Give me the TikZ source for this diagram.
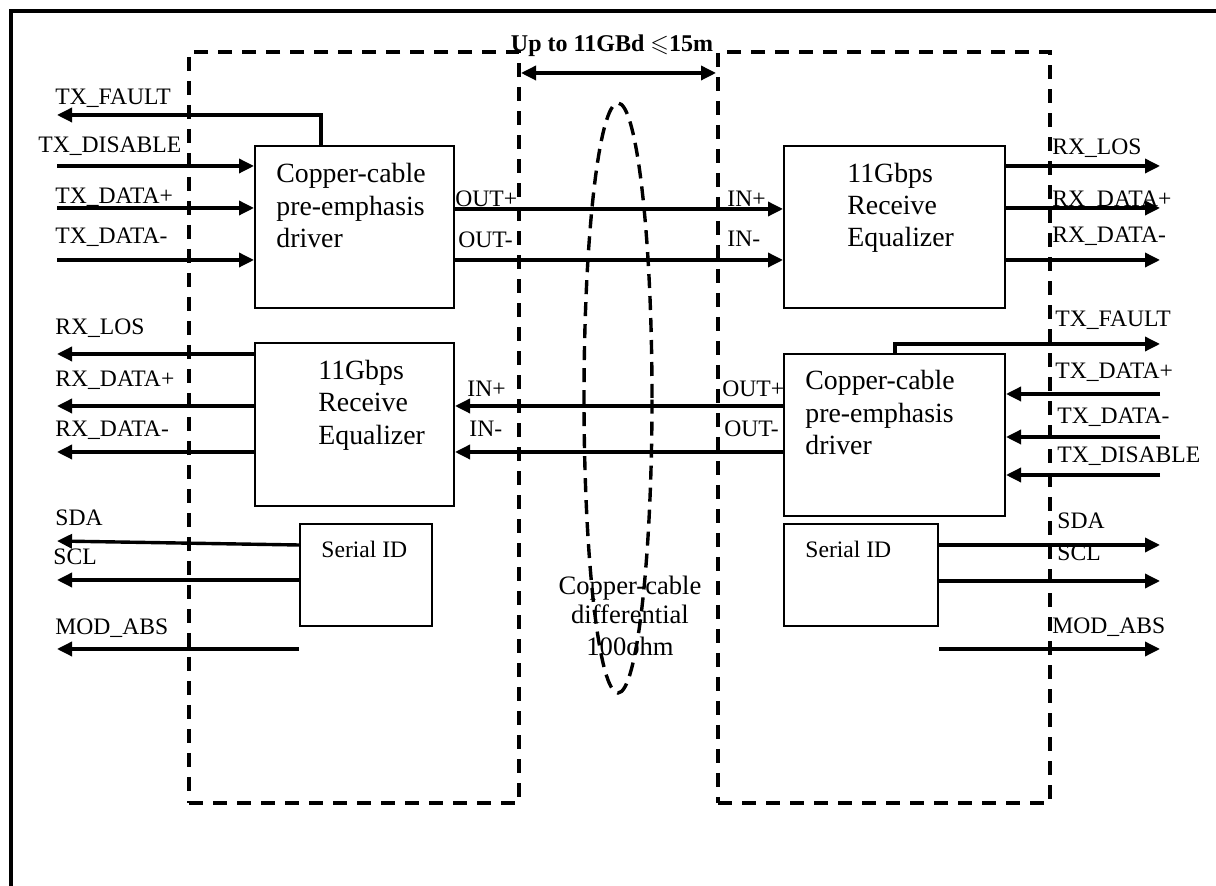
\documentclass[tikz,border=0pt]{standalone}
\usepackage{fontspec}
\setmainfont{Liberation Serif}
\usepackage{amssymb}
\usetikzlibrary{arrows.meta,shapes.geometric,fit}
\begin{document}
\begin{tikzpicture}[x=0.5pt,y=-0.5pt,
  sig/.style={line width=1.7pt,-{Triangle[length=7.5pt,width=7pt]}},
  dsig/.style={line width=1.7pt,{Triangle[length=7.5pt,width=7pt]}-{Triangle[length=7.5pt,width=7pt]}},
  blk/.style={draw,line width=1pt,inner sep=0pt},
  dashbox/.style={draw,line width=2pt,dash pattern=on 7pt off 5pt,inner sep=0pt},
  cable/.style={draw,ellipse,line width=1.7pt,dash pattern=on 7pt off 4pt,inner sep=0pt},
  lbl/.style={anchor=base west,inner sep=0pt,font=\fontsize{11.8}{13}\selectfont},
  btxt/.style={anchor=base west,inner sep=0pt,font=\fontsize{13.9}{16}\selectfont},
  ctxt/.style={anchor=base,inner sep=0pt,font=\fontsize{13.3}{15}\selectfont},
  frame/.style={line width=2pt}]
\useasboundingbox (0,0) rectangle (1216,886);
% outer frame (cropped)
\coordinate (fr1) at (11,886);
\coordinate (fr2) at (11,11);
\coordinate (fr3) at (1216,11);
\draw[frame] (fr1) -- (fr2) -- (fr3);
% module boxes
\node[dashbox,fit={(189,52)(519,803)}] (modL) {};
\node[dashbox,fit={(718,52)(1050,803)}] (modR) {};
% title and measurement
\node[anchor=base,inner sep=0pt,font=\bfseries\fontsize{12}{14}\selectfont] (ttl) at (612,52) {Up to 11GBd $\leqslant$15m};
\coordinate (meas) at (600,73);
\draw[dsig] (meas -| modL.east) -- (meas -| modR.west);
% blocks
\node[blk,fit={(255,146)(454,308)}] (drvL) {};
\node[blk,fit={(784,146)(1005,308)}] (rxR) {};
\node[blk,fit={(255,343)(454,506)}] (rxL) {};
\node[blk,fit={(784,354)(1005,516)}] (drvR) {};
\node[blk,fit={(300,524)(432,626)}] (sidL) {};
\node[blk,fit={(784,524)(938,626)}] (sidR) {};
% block texts
\node[btxt] (dl1) at (276,183) {Copper-cable};
\node[btxt] (dl2) at (276,216) {pre-emphasis};
\node[btxt] (dl3) at (276,248) {driver};
\node[btxt] (rr1) at (847,183) {11Gbps};
\node[btxt] (rr2) at (847,215) {Receive};
\node[btxt] (rr3) at (847,247) {Equalizer};
\node[btxt] (rl1) at (318,380) {11Gbps};
\node[btxt] (rl2) at (318,412) {Receive};
\node[btxt] (rl3) at (318,445) {Equalizer};
\node[btxt] (dr1) at (805,390) {Copper-cable};
\node[btxt] (dr2) at (805,423) {pre-emphasis};
\node[btxt] (dr3) at (805,455) {driver};
\node[lbl] (sl) at (321,558) {Serial ID};
\node[lbl] (sr) at (805,558) {Serial ID};
% cable
\node[ctxt] (c1) at (630,595) {Copper-cable};
\node[ctxt] (c2) at (630,624) {differential};
\node[ctxt] (c3) at (630,656) {100ohm};
\node[cable,minimum width=34pt,minimum height=295pt] (cab) at (618,398) {};
% left side signals
\coordinate (tfL) at (57,115);
\coordinate (tfLk) at (321,115);
\draw[sig] (tfLk |- drvL.north) -- (tfLk) -- (tfL);
\coordinate (tdisL) at (57,166);
\coordinate (tdpL) at (57,208);
\coordinate (tdmL) at (57,260);
\draw[sig] (tdisL) -- (tdisL -| drvL.west);
\draw[sig] (tdpL) -- (tdpL -| drvL.west);
\draw[sig] (tdmL) -- (tdmL -| drvL.west);
\coordinate (rlosL) at (57,354);
\coordinate (rdpL) at (57,406);
\coordinate (rdmL) at (57,452);
\draw[sig] (rlosL -| rxL.west) -- (rlosL);
\draw[sig] (rdpL -| rxL.west) -- (rdpL);
\draw[sig] (rdmL -| rxL.west) -- (rdmL);
\coordinate (sdaL) at (57,541);
\coordinate (sdaLs) at (300,545);
\coordinate (sclL) at (57,580);
\coordinate (modAL) at (57,649);
\draw[sig] (sdaLs -| sidL.west) -- (sdaL);
\draw[sig] (sclL -| sidL.west) -- (sclL);
\draw[sig] (modAL -| sidL.west) -- (modAL);
% middle links
\coordinate (op) at (600,209);
\coordinate (om) at (600,260);
\draw[sig] (op -| drvL.east) -- (op -| rxR.west);
\draw[sig] (om -| drvL.east) -- (om -| rxR.west);
\coordinate (ip) at (600,406);
\coordinate (im) at (600,452);
\draw[sig] (ip -| drvR.west) -- (ip -| rxL.east);
\draw[sig] (im -| drvR.west) -- (im -| rxL.east);
% right side signals
\coordinate (rlosR) at (1160,166);
\coordinate (rdpR) at (1160,208);
\coordinate (rdmR) at (1160,260);
\draw[sig] (rlosR -| rxR.east) -- (rlosR);
\draw[sig] (rdpR -| rxR.east) -- (rdpR);
\draw[sig] (rdmR -| rxR.east) -- (rdmR);
\coordinate (tfR) at (1160,344);
\coordinate (tfRk) at (895,344);
\draw[sig] (tfRk |- drvR.north) -- (tfRk) -- (tfR);
\coordinate (tdpR) at (1160,394);
\coordinate (tdmR) at (1160,437);
\coordinate (tdisR) at (1160,475);
\draw[sig] (tdpR) -- (tdpR -| drvR.east);
\draw[sig] (tdmR) -- (tdmR -| drvR.east);
\draw[sig] (tdisR) -- (tdisR -| drvR.east);
\coordinate (sdaR) at (1160,545);
\coordinate (sclR) at (1160,581);
\coordinate (modAR) at (1160,649);
\draw[sig] (sdaR -| sidR.east) -- (sdaR);
\draw[sig] (sclR -| sidR.east) -- (sclR);
\draw[sig] (modAR -| sidR.east) -- (modAR);
% labels left
\node[lbl] (la1) at (55,105) {TX\_FAULT};
\node[lbl] (la2) at (38,153) {TX\_DISABLE};
\node[lbl] (la3) at (55,204) {TX\_DATA+};
\node[lbl] (la4) at (55,244) {TX\_DATA-};
\node[lbl] (la5) at (55,335) {RX\_LOS};
\node[lbl] (la6) at (55,387) {RX\_DATA+};
\node[lbl] (la7) at (55,437) {RX\_DATA-};
\node[lbl] (la8) at (55,526) {SDA};
\node[lbl] (la9) at (53,565) {SCL};
\node[lbl] (la10) at (55,635) {MOD\_ABS};
% labels middle
\node[lbl] (m1) at (455,207) {OUT+};
\node[lbl] (m2) at (458,248) {OUT-};
\node[lbl] (m3) at (727,207) {IN+};
\node[lbl] (m4) at (727,247) {IN-};
\node[lbl] (m5) at (467,397) {IN+};
\node[lbl] (m6) at (469,437) {IN-};
\node[lbl] (m7) at (722,397) {OUT+};
\node[lbl] (m8) at (724,437) {OUT-};
% labels right
\node[lbl] (ra1) at (1052,155) {RX\_LOS};
\node[lbl] (ra2) at (1052,207) {RX\_DATA+};
\node[lbl] (ra3) at (1052,243) {RX\_DATA-};
\node[lbl] (ra4) at (1055,327) {TX\_FAULT};
\node[lbl] (ra5) at (1055,379) {TX\_DATA+};
\node[lbl] (ra6) at (1057,424) {TX\_DATA-};
\node[lbl] (ra7) at (1057,463) {TX\_DISABLE};
\node[lbl] (ra8) at (1057,529) {SDA};
\node[lbl] (ra9) at (1057,561) {SCL};
\node[lbl] (ra10) at (1052,634) {MOD\_ABS};
\end{tikzpicture}
\end{document}
